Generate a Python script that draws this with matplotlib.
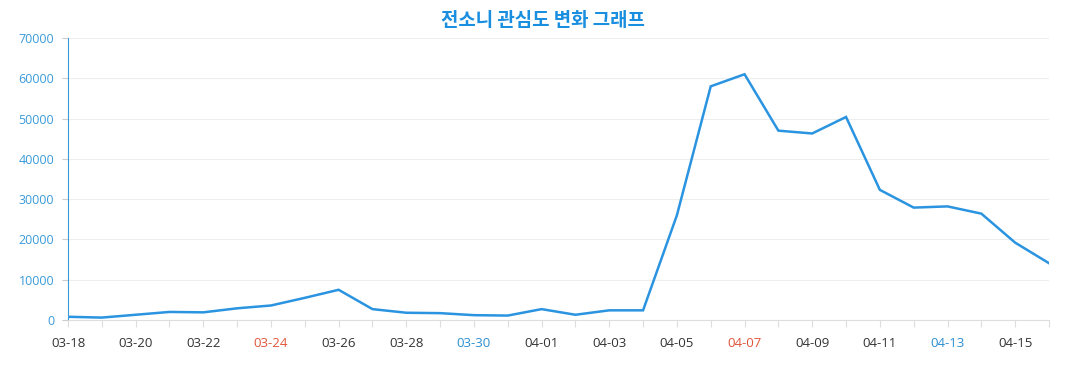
import matplotlib
matplotlib.use("Agg")
import matplotlib.pyplot as plt

dates = ["03-18","03-19","03-20","03-21","03-22","03-23","03-24","03-25","03-26","03-27",
         "03-28","03-29","03-30","03-31","04-01","04-02","04-03","04-04","04-05","04-06",
         "04-07","04-08","04-09","04-10","04-11","04-12","04-13","04-14","04-15","04-16"]
values = [800, 600, 1300, 2000, 1900, 2900, 3600, 5500, 7500, 2700,
          1800, 1700, 1200, 1100, 2700, 1300, 2400, 2400, 26000, 58000,
          61000, 47000, 46300, 50400, 32300, 27900, 28200, 26400, 19200, 14100]
yticks = [0, 10000, 20000, 30000, 40000, 50000, 60000, 70000]
title = "전소니 관심도 변화 그래프"
red_days = ["03-24", "04-07"]
blue_days = ["03-30", "04-13"]

plt.rcParams['font.family'] = ['Open Sans', 'Noto Sans CJK KR', 'DejaVu Sans']

fig = plt.figure(figsize=(10.77, 3.9), dpi=100)
ax = fig.add_axes([68/1077, 1-320/390, (1049-68)/1077, (320-38)/390])

x = list(range(len(dates)))
ax.plot(x, values, color="#2b94e0", lw=1.8, solid_joinstyle="miter")
ax.set_xlim(0, len(dates)-1)
ax.set_ylim(0, 70000)
ax.set_yticks(yticks)
ax.set_yticklabels([str(v) for v in yticks], color="#3a9ad9", fontsize=9)
labels = [d if i % 2 == 0 else "" for i, d in enumerate(dates)]
ax.set_xticks(x)
ax.set_xticklabels(labels, fontsize=9.5)
for lbl, d in zip(ax.get_xticklabels(), dates):
    if d in red_days:
        lbl.set_color("#e0553a")
    elif d in blue_days:
        lbl.set_color("#2a8fd0")
    else:
        lbl.set_color("#333333")

ax.grid(axis="y", color="#eeeeee", lw=0.8)
ax.set_axisbelow(True)
for s in ["top", "right"]:
    ax.spines[s].set_visible(False)
ax.spines["left"].set_color("#3a9ad9")
ax.spines["bottom"].set_color("#dddddd")
ax.tick_params(axis="x", length=5, color="#dddddd", pad=7)
ax.tick_params(axis="y", length=4, color="#cccccc", pad=6)

fig.text(543/1077, 1-20/390, title, ha="center", va="center", fontsize=13.6,
         fontweight="bold", color="#1a8fe0", family=['Noto Sans CJK KR', 'DejaVu Sans'])

fig.savefig("out.png", dpi=100)
